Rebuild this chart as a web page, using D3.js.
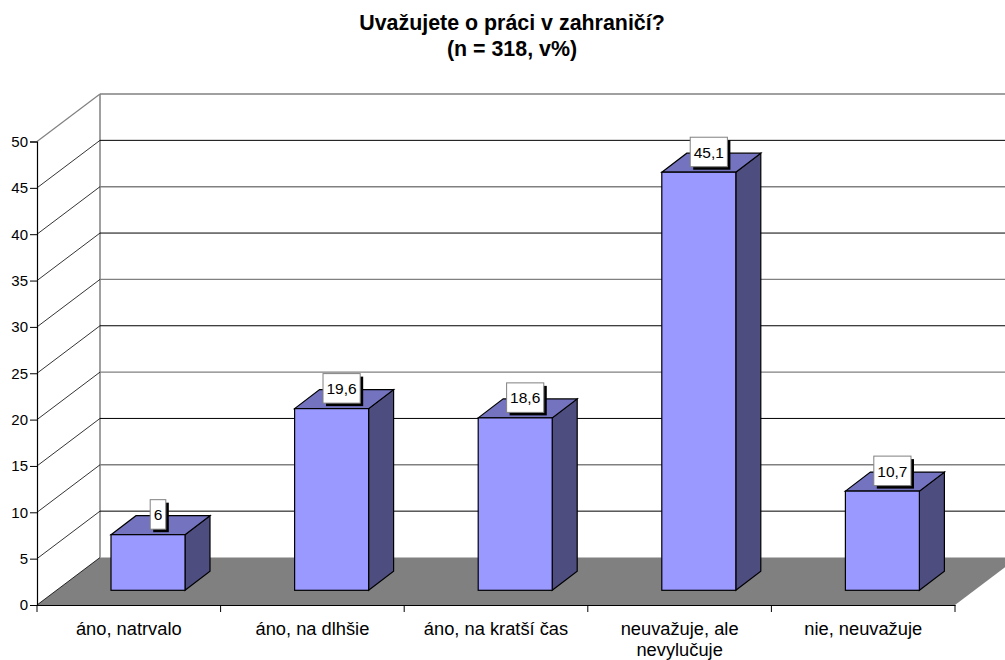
<!DOCTYPE html>
<html>
<head>
<meta charset="utf-8">
<script src="https://cdn.jsdelivr.net/npm/d3@7"></script>
<style>
  html, body { margin: 0; padding: 0; background: #fff; }
  svg { display: block; }
  text { font-family: "Liberation Sans", Arial, sans-serif; fill: #000; }
</style>
</head>
<body>
<div id="chart"></div>
<script>
// data
const categories = ["áno, natrvalo", "áno, na dlhšie", "áno, na kratší čas", "neuvažuje, ale nevylučuje", "nie, neuvažuje"];
const values = [6, 19.6, 18.6, 45.1, 10.7];
const valueLabels = ["6", "19,6", "18,6", "45,1", "10,7"];
const yTicks = [0, 5, 10, 15, 20, 25, 30, 35, 40, 45, 50];
const titleLines = ["Uvažujete o práci v zahraničí?", "(n = 318, v%)"];

const W = 1005, H = 660;

const svg = d3.select("#chart").append("svg")
  .attr("width", W)
  .attr("height", H);

const x = d3.scaleBand().domain(categories).range([37, 955]);
const y = d3.scaleLinear().domain([0, 50]).range([605, 141.5]);

// 3d offsets of the chart box and of the bars
const depthX = 63, depthY = 47.5;
const barDX = 25, barDY = 19;
const barLeft = 74, barW = 74, barLift = 14.7;

const line = d3.line();
const grey = "#808080";
const labelFont = '"Liberation Sans", Arial, sans-serif';

// floor
svg.append("path")
  .attr("d", line([[37, y(0)], [37 + depthX, y(0) - depthY], [955 + depthX, y(0) - depthY], [955, y(0)]]) + "Z")
  .attr("fill", grey)
  .attr("stroke", "none");

// back wall vertical
svg.append("line")
  .attr("x1", 37 + depthX).attr("x2", 37 + depthX)
  .attr("y1", y(0) - depthY).attr("y2", y(50) - depthY)
  .attr("stroke", grey).attr("stroke-width", 1.5);

// gridlines, every other one is grey
yTicks.filter(d => d > 0).forEach(function (d) {
  const col = d % 10 === 0 ? grey : "#000";
  svg.append("line")
    .attr("x1", 37 + depthX).attr("x2", W)
    .attr("y1", y(d) - depthY).attr("y2", y(d) - depthY)
    .attr("stroke", col)
    .attr("stroke-width", d % 10 === 0 ? 1.4 : 1);
});

// side wall lines
yTicks.forEach(function (d) {
  svg.append("line")
    .attr("x1", 37).attr("x2", 37 + depthX)
    .attr("y1", y(d)).attr("y2", y(d) - depthY)
    .attr("stroke", d === 50 ? grey : "#000")
    .attr("stroke-width", d === 50 ? 1.2 : 0.8);
});

// bars
const bars = svg.append("g").selectAll("g")
  .data(categories)
  .join("g");

bars.each(function (c, i) {
  const g = d3.select(this);
  const x0 = x(c) + barLeft, x1 = x0 + barW;
  const yTop = y(values[i]) - barLift, yBase = y(0) - barLift;

  // side
  g.append("path")
    .attr("d", line([[x1, yTop], [x1 + barDX, yTop - barDY], [x1 + barDX, yBase - barDY], [x1, yBase]]) + "Z")
    .attr("fill", "#4d4d80").attr("stroke", "#000").attr("stroke-width", 1.2);
  // top
  g.append("path")
    .attr("d", line([[x0, yTop], [x0 + barDX, yTop - barDY], [x1 + barDX, yTop - barDY], [x1, yTop]]) + "Z")
    .attr("fill", "#7373bf").attr("stroke", "#000").attr("stroke-width", 1.2);
  // front
  g.append("rect")
    .attr("x", x0).attr("y", yTop)
    .attr("width", barW).attr("height", yBase - yTop)
    .attr("fill", "#9999ff").attr("stroke", "#000").attr("stroke-width", 1.2);
});

// axes
const yAxis = svg.append("g")
  .attr("transform", "translate(37,0)")
  .call(d3.axisLeft(y).tickValues(yTicks).tickSize(7).tickPadding(2));
const xAxis = svg.append("g")
  .attr("transform", "translate(0,605)")
  .call(d3.axisBottom(x).tickSize(0).tickPadding(17));

yAxis.select(".domain").attr("stroke", "#000").attr("stroke-width", 1.2);
yAxis.selectAll("text").attr("font-size", 15).style("font-family", labelFont);
xAxis.select(".domain").attr("stroke", "#000").attr("stroke-width", 1.2);

// category ticks sit between the bands
svg.append("g").selectAll("line")
  .data(d3.range(categories.length + 1))
  .join("line")
  .attr("x1", d => 37 + d * x.step()).attr("x2", d => 37 + d * x.step())
  .attr("y1", 605).attr("y2", 612)
  .attr("stroke", "#000");

xAxis.selectAll(".tick text")
  .attr("font-size", 18.3)
  .style("font-family", labelFont)
  .each(function (d) {
    // long label goes on two lines
    if (d !== "neuvažuje, ale nevylučuje") return;
    const t = d3.select(this), yy = t.attr("y");
    t.text(null);
    t.append("tspan").attr("x", 0).attr("y", yy).attr("dy", "0.71em").text("neuvažuje, ale");
    t.append("tspan").attr("x", 0).attr("y", yy).attr("dy", "1.85em").text("nevylučuje");
  });

// value labels with a shadow box
categories.forEach(function (c, i) {
  const cx = x(c) + barLeft + barW / 2 + 10;
  const cy = y(values[i]) - barLift - 20;
  const g = svg.append("g");
  const shadow = g.append("rect").attr("fill", "#000");
  const box = g.append("rect").attr("fill", "#fff").attr("stroke", grey);
  const t = g.append("text")
    .attr("x", cx).attr("y", cy)
    .attr("text-anchor", "middle")
    .attr("dominant-baseline", "central")
    .attr("font-size", 15.5)
    .text(valueLabels[i]);
  const w = t.node().getComputedTextLength() + 7;
  box.attr("x", cx - w / 2).attr("y", cy - 15).attr("width", w).attr("height", 29.5);
  shadow.attr("x", cx - w / 2 + 3).attr("y", cy - 12).attr("width", w).attr("height", 29.5);
});

// title
svg.append("g").selectAll("text")
  .data(titleLines)
  .join("text")
  .attr("x", 512)
  .attr("y", (d, i) => 30 + i * 26)
  .attr("text-anchor", "middle")
  .attr("font-size", 21.4)
  .attr("font-weight", "bold")
  .text(d => d);
</script>
</body>
</html>
